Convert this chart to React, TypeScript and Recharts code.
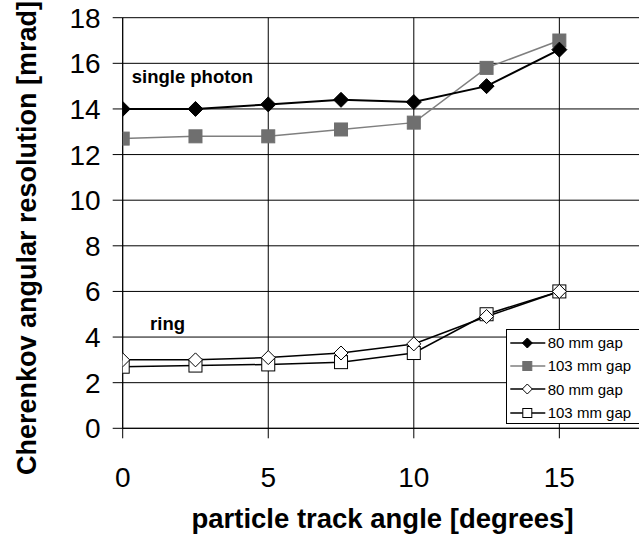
import React from 'react';
import { LineChart, Line, XAxis, YAxis, CartesianGrid, Legend, ReferenceDot, Label } from 'recharts';

// Track angles (degrees) at which the resolution was evaluated
const angles = [0, 2.5, 5, 7.5, 10, 12.5, 15];

// Single-photon Cherenkov angle resolution [mrad]
const singlePhoton80 = [14.0, 14.0, 14.2, 14.4, 14.3, 15.0, 16.6];
const singlePhoton103 = [12.7, 12.8, 12.8, 13.1, 13.4, 15.8, 17.0];

// Per-ring Cherenkov angle resolution [mrad]
const ring80 = [3.0, 3.0, 3.1, 3.3, 3.7, 4.9, 6.0];
const ring103 = [2.7, 2.75, 2.8, 2.9, 3.3, 5.0, 6.0];

const xTicks = [0, 5, 10, 15];
const yTicks = [0, 2, 4, 6, 8, 10, 12, 14, 16, 18];
const legendLabels = ['80 mm gap', '103 mm gap', '80 mm gap', '103 mm gap'];

const rows = angles.map((angle, i) => ({
  angle,
  sp80: singlePhoton80[i],
  sp103: singlePhoton103[i],
  r80: ring80[i],
  r103: ring103[i],
}));

const FONT = '"Liberation Sans", Arial, Helvetica, sans-serif';
const GRAY = '#6f6f6f';
const GRAY_LINE = '#7f7f7f';

type MarkProps = { cx: number; cy: number; r: number; fill: string; stroke: string };

function Diamond({ cx, cy, r, fill, stroke }: MarkProps) {
  return (
    <path
      d={`M${cx},${cy - r}L${cx + r},${cy}L${cx},${cy + r}L${cx - r},${cy}Z`}
      fill={fill}
      stroke={stroke}
      strokeWidth={1}
    />
  );
}

function Square({ cx, cy, r, fill, stroke }: MarkProps) {
  return <rect x={cx - r} y={cy - r} width={2 * r} height={2 * r} fill={fill} stroke={stroke} strokeWidth={1} />;
}

const markers = [
  { Shape: Diamond, fill: '#000', stroke: '#000', line: '#000' },
  { Shape: Square, fill: GRAY, stroke: GRAY, line: GRAY_LINE },
  { Shape: Diamond, fill: '#fff', stroke: '#000', line: '#000' },
  { Shape: Square, fill: '#fff', stroke: '#000', line: '#000' },
];

function dotRenderer(idx: number, r: number) {
  const m = markers[idx];
  return (p: any) => {
    if (p.cx == null || p.cy == null) return <g key={`m${idx}-${p.index}`} />;
    const S = m.Shape;
    return (
      <g key={`m${idx}-${p.index}`}>
        <S cx={p.cx} cy={p.cy} r={r} fill={m.fill} stroke={m.stroke} />
      </g>
    );
  };
}

function LegendBox() {
  return (
    <div
      style={{
        border: '1px solid #000',
        background: '#fff',
        width: 150,
        height: 95,
        boxSizing: 'border-box',
        paddingTop: 1,
        fontFamily: FONT,
        fontSize: 15,
        color: '#000',
      }}
    >
      {legendLabels.map((label, i) => {
        const m = markers[i];
        const S = m.Shape;
        return (
          <div key={i} style={{ display: 'flex', alignItems: 'center', height: 23.3 }}>
            <svg width={40} height={16} style={{ display: 'block', flex: 'none' }}>
              <line x1={3.3} y1={8} x2={38.3} y2={8} stroke={m.line} strokeWidth={1.5} />
              <S cx={20.3} cy={8} r={i === 1 || i === 3 ? 4.5 : 5} fill={m.fill} stroke={m.stroke} />
            </svg>
            <span style={{ marginLeft: 1, whiteSpace: 'nowrap' }}>{label}</span>
          </div>
        );
      })}
    </div>
  );
}

const tickStyle = { fontSize: 28, fill: '#000', fontFamily: FONT };

export default function App() {
  return (
    <div
      style={{
        position: 'fixed',
        left: 0,
        top: 0,
        width: 639,
        height: 536,
        overflow: 'hidden',
        background: '#fff',
      }}
    >
      <LineChart width={720} height={536} data={rows} margin={{ top: 17.7, right: 15.1, left: 0, bottom: 0 }}>
        <CartesianGrid stroke="#000" strokeWidth={1} />
        <XAxis
          type="number"
          dataKey="angle"
          domain={[0, 20]}
          ticks={xTicks}
          interval={0}
          allowDataOverflow
          height={107.7}
          tickSize={10}
          tickMargin={29}
          tick={tickStyle}
          axisLine={{ stroke: '#000' }}
          tickLine={{ stroke: '#000' }}
        >
          <Label
            content={() => (
              <text
                x={382.5}
                y={528}
                textAnchor="middle"
                fontFamily={FONT}
                fontWeight="bold"
                fontSize={27.5}
                fill="#000"
              >
                particle track angle [degrees]
              </text>
            )}
          />
        </XAxis>
        <YAxis
          type="number"
          domain={[0, 18]}
          ticks={yTicks}
          interval={0}
          width={122.7}
          tickSize={10}
          tickMargin={12}
          tick={tickStyle}
          axisLine={{ stroke: '#000' }}
          tickLine={{ stroke: '#000' }}
        >
          <Label
            content={() => (
              <text
                x={0}
                y={0}
                transform="translate(36,238) rotate(-90)"
                textAnchor="middle"
                fontFamily={FONT}
                fontWeight="bold"
                fontSize={27}
                fill="#000"
              >
                Cherenkov angular resolution [mrad]
              </text>
            )}
          />
        </YAxis>

        <Line dataKey="r103" stroke="#000" strokeWidth={1.5} dot={dotRenderer(3, 6.5)} isAnimationActive={false} />
        <Line dataKey="r80" stroke="#000" strokeWidth={1.5} dot={dotRenderer(2, 7)} isAnimationActive={false} />
        <Line dataKey="sp103" stroke={GRAY_LINE} strokeWidth={1.5} dot={dotRenderer(1, 6.5)} isAnimationActive={false} />
        <Line dataKey="sp80" stroke="#000" strokeWidth={2} dot={dotRenderer(0, 7.5)} isAnimationActive={false} />

        <ReferenceDot
          x={0.31}
          y={15.14}
          r={0}
          shape={(p: any) => (
            <text x={p.cx} y={p.cy} fontFamily={FONT} fontWeight="bold" fontSize={18.5} fill="#000">
              single photon
            </text>
          )}
        />
        <ReferenceDot
          x={0.94}
          y={4.31}
          r={0}
          shape={(p: any) => (
            <text x={p.cx} y={p.cy} fontFamily={FONT} fontWeight="bold" fontSize={18.5} fill="#000">
              ring
            </text>
          )}
        />

        <Legend
          layout="horizontal"
          verticalAlign="middle"
          align="center"
          content={() => <LegendBox />}
          wrapperStyle={{ left: 505.7, top: 329, width: 150, height: 95 }}
        />
      </LineChart>
    </div>
  );
}
